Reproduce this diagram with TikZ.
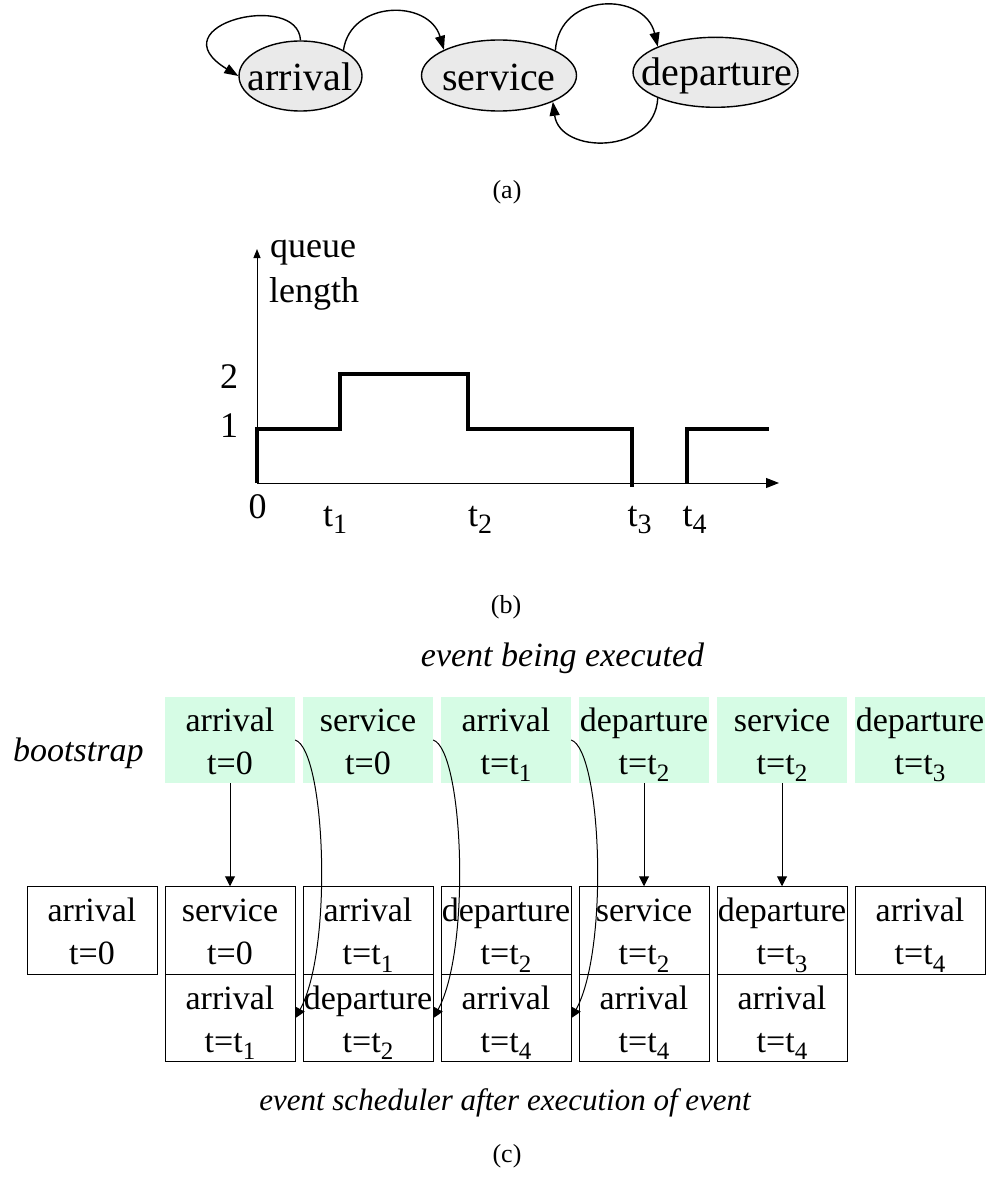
\documentclass[tikz,border=0pt]{standalone}
\usepackage{fontspec}
\setmainfont{Liberation Serif}
\usetikzlibrary{arrows.meta,shapes.geometric,calc}
\definecolor{ellgray}{HTML}{EAEAEA}
\definecolor{execgreen}{HTML}{D6FCE5}
\newcommand\lowsub[1]{\raisebox{-7.5pt}{\fontsize{25}{25}\selectfont #1}}
\newcommand\plotsub[1]{\raisebox{-7pt}{\fontsize{28}{28}\selectfont #1}}
\newcommand\evcell[6]{%
  \node[#4] (#1) at (#2,#3) {};
  \node[celltext] (#1-a) at ($(#1.center)+(0,-9)$) {#5};
  \node[celltext] (#1-b) at ($(#1.center)+(0,34)$) {#6};}
\begin{document}
\begin{tikzpicture}[x=1pt,y=-1pt,
  state/.style={ellipse,draw,line width=1.4pt,fill=ellgray,inner sep=0pt},
  statetext/.style={font=\fontsize{40}{48}\selectfont,inner sep=0pt,anchor=base},
  toparrow/.style={line width=1.4pt,-{Triangle[length=14pt,width=10pt]}},
  plotlabel/.style={font=\fontsize{36}{43}\selectfont,inner sep=0pt,anchor=base},
  axisline/.style={line width=1pt},
  stepline/.style={line width=4pt,line join=miter},
  caption/.style={font=\fontsize{26}{31}\selectfont,inner sep=0pt,anchor=base},
  ital/.style={font=\fontsize{34}{41}\selectfont\itshape,inner sep=0pt,anchor=base},
  execcell/.style={rectangle,fill=execgreen,minimum width=130pt,minimum height=86pt,inner sep=0pt},
  queuecell/.style={rectangle,draw,line width=1pt,minimum width=130pt,minimum height=87.5pt,inner sep=0pt},
  celltext/.style={font=\fontsize{34}{41}\selectfont,inner sep=0pt,anchor=base},
  tabarrow/.style={line width=1pt,-{Triangle[length=10pt,width=10pt]}},
]
\useasboundingbox (0,0) rectangle (988,1182);

% ---------------- (a) state graph
\node[state,minimum width=123pt,minimum height=70pt] (arr) at (300.5,76) {};
\node[state,minimum width=155pt,minimum height=71pt] (svc) at (499,75.5) {};
\node[state,minimum width=165pt,minimum height=70pt] (dep) at (715.5,72.3) {};
\node[statetext] (arr-t) at (300,90.5) {arrival};
\node[statetext] (svc-t) at (499,90.5) {service};
\node[statetext] (dep-t) at (717,85.5) {departure};

\draw[toparrow] (arr.north) .. controls (298,-10) and (155,25) .. (arr.west);
\draw[toparrow] (arr.31) .. controls +(7,-50) and +(-15,-51) .. (svc.155);
\draw[toparrow] (svc.24) .. controls +(4,-59) and +(-13,-55) .. (dep.156);
\draw[toparrow] (dep.204) .. controls +(-3,57) and +(7,53) .. (svc.334);

\node[caption] (capa) at (507,199) {(a)};

% ---------------- (b) queue length plot
\coordinate (O) at (257,483);
\coordinate (ytop) at (257,249);
\coordinate (xend) at (779,483);
\draw[axisline,-{Triangle[length=9pt,width=7pt]}] (O) -- (ytop);
\draw[axisline,-{Triangle[length=13pt,width=10pt]}] (O) -- (xend);
\draw[stepline] (257,483) -- (257,429) -- (340,429) -- (340,374) -- (468,374)
   -- (468,429) -- (632,429) -- (632,487);
\draw[stepline] (687,483) -- (687,429) -- (769,429);

\node[plotlabel,anchor=base west] (ql1) at (270,257) {queue};
\node[plotlabel,anchor=base west] (ql2) at (269,302) {length};
\node[plotlabel] (lv2) at (229,388) {2};
\node[plotlabel] (lv1) at (229,437) {1};
\node[plotlabel] (tz) at (257.5,518) {0};
\node[plotlabel,anchor=base west] (tt1) at (323,526) {t\plotsub{1}};
\node[plotlabel,anchor=base west] (tt2) at (468,526) {t\plotsub{2}};
\node[plotlabel,anchor=base west] (tt3) at (627.5,526) {t\plotsub{3}};
\node[plotlabel,anchor=base west] (tt4) at (682.5,526) {t\plotsub{4}};

\node[caption] (capb) at (506,613) {(b)};

% ---------------- (c) event table
\node[ital] (exlab) at (562.5,666) {event being executed};
\node[ital,anchor=base west] (bootlab) at (13,761) {bootstrap};

\evcell{e1}{230}{740}{execcell}{arrival}{t=0}
\evcell{e2}{368}{740}{execcell}{service}{t=0}
\evcell{e3}{506}{740}{execcell}{arrival}{t=t\lowsub{1}}
\evcell{e4}{644}{740}{execcell}{departure}{t=t\lowsub{2}}
\evcell{e5}{782}{740}{execcell}{service}{t=t\lowsub{2}}
\evcell{e6}{920}{740}{execcell}{departure}{t=t\lowsub{3}}

\evcell{q0}{92}{930.5}{queuecell}{arrival}{t=0}
\evcell{q1}{230}{930.5}{queuecell}{service}{t=0}
\evcell{q2}{368}{930.5}{queuecell}{arrival}{t=t\lowsub{1}}
\evcell{q3}{506}{930.5}{queuecell}{departure}{t=t\lowsub{2}}
\evcell{q4}{644}{930.5}{queuecell}{service}{t=t\lowsub{2}}
\evcell{q5}{782}{930.5}{queuecell}{departure}{t=t\lowsub{3}}
\evcell{q6}{920}{930.5}{queuecell}{arrival}{t=t\lowsub{4}}

\evcell{r1}{230}{1018}{queuecell}{arrival}{t=t\lowsub{1}}
\evcell{r2}{368}{1018}{queuecell}{departure}{t=t\lowsub{2}}
\evcell{r3}{506}{1018}{queuecell}{arrival}{t=t\lowsub{4}}
\evcell{r4}{644}{1018}{queuecell}{arrival}{t=t\lowsub{4}}
\evcell{r5}{782}{1018}{queuecell}{arrival}{t=t\lowsub{4}}

\draw[tabarrow] (e1.south) -- (q1.north);
\draw[tabarrow] (e4.south) -- (q4.north);
\draw[tabarrow] (e5.south) -- (q5.north);
\draw[tabarrow] (e1.east) .. controls +(30,10) and +(38,-70) .. (r1.east);
\draw[tabarrow] (e2.east) .. controls +(30,10) and +(38,-70) .. (r2.east);
\draw[tabarrow] (e3.east) .. controls +(30,10) and +(38,-70) .. (r3.east);

\node[ital,font=\fontsize{31}{37}\selectfont\itshape] (schedlab) at (505,1110) {event scheduler after execution of event};
\node[caption] (capc) at (507,1162) {(c)};
\end{tikzpicture}
\end{document}
